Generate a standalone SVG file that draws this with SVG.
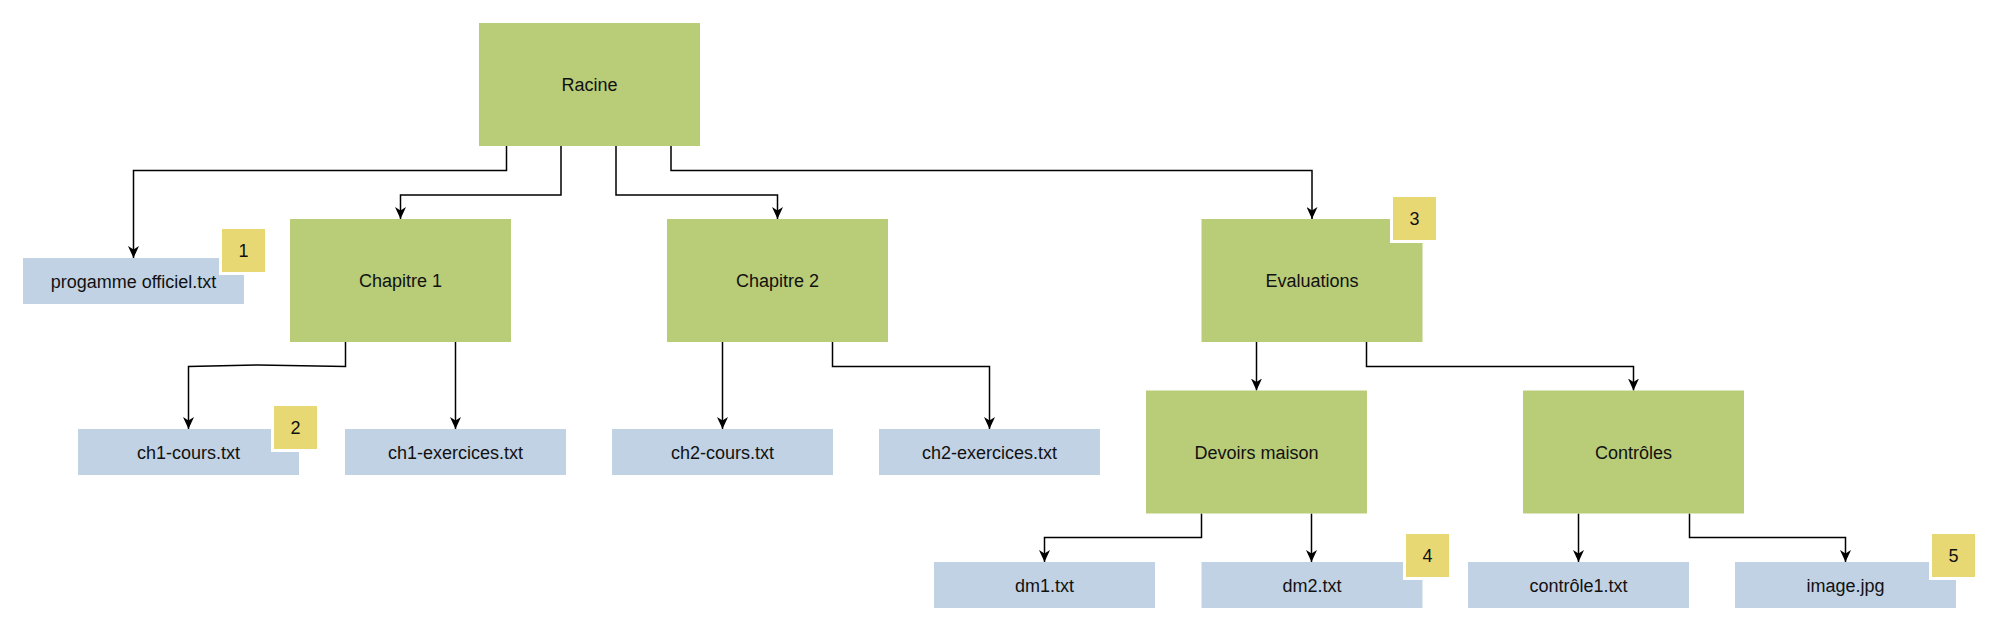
<svg xmlns="http://www.w3.org/2000/svg" width="2000" height="631" viewBox="0 0 2000 631">
<style>
.g{fill:#B9CC78}
.b{fill:#C1D2E4}
.y{fill:#E7D873;stroke:#FFFFFF;stroke-width:3}
.t{font-family:"Liberation Sans",Arial,sans-serif;font-size:18px;fill:#111111;text-anchor:middle}
.c{fill:none;stroke:#000000;stroke-width:1.5;marker-end:url(#arr)}
</style>
<defs>
<marker id="arr" viewBox="0 0 12 11" refX="12" refY="5.5" markerWidth="12" markerHeight="11" markerUnits="userSpaceOnUse" orient="auto">
<path d="M12,5.5 L0,0 L3.5,5.5 L0,11 Z" fill="#000000"/>
</marker>
</defs>
<rect width="2000" height="631" fill="#FFFFFF"/>
<g id="connectors">
<path class="c" d="M506.5,146 V170.5 H133.5 V258"/>
<path class="c" d="M561,146 V195 H400.5 V219"/>
<path class="c" d="M616,146 V195 H777.5 V219"/>
<path class="c" d="M671,146 V170.5 H1312 V219"/>
<path class="c" d="M345.5,342 V366.5 L258,365 L188.5,366.5 V429"/>
<path class="c" d="M455.5,342 V429"/>
<path class="c" d="M722.5,342 V429"/>
<path class="c" d="M832.5,342 V366.5 H989.5 V429"/>
<path class="c" d="M1256.5,342 V390.5"/>
<path class="c" d="M1366.5,342 V366.5 H1633.5 V390.5"/>
<path class="c" d="M1201.5,513.5 V537.5 H1044.5 V562"/>
<path class="c" d="M1311.5,513.5 V562"/>
<path class="c" d="M1578.5,513.5 V562"/>
<path class="c" d="M1689.5,513.5 V537.5 H1845.5 V562"/>
</g>
<g id="racine"><rect class="g" x="479" y="23" width="221" height="123"/><text class="t" x="589.5" y="91">Racine</text></g>
<g id="chapitre1"><rect class="g" x="290" y="219" width="221" height="123"/><text class="t" x="400.5" y="287">Chapitre 1</text></g>
<g id="chapitre2"><rect class="g" x="667" y="219" width="221" height="123"/><text class="t" x="777.5" y="287">Chapitre 2</text></g>
<g id="evaluations"><rect class="g" x="1201.5" y="219" width="221" height="123"/><text class="t" x="1312" y="287">Evaluations</text></g>
<g id="devoirs"><rect class="g" x="1146" y="390.5" width="221" height="123"/><text class="t" x="1256.5" y="458.5">Devoirs maison</text></g>
<g id="controles"><rect class="g" x="1523" y="390.5" width="221" height="123"/><text class="t" x="1633.5" y="458.5">Contrôles</text></g>
<g id="progamme"><rect class="b" x="23" y="258" width="221" height="46"/><text class="t" x="133.5" y="287.5">progamme officiel.txt</text></g>
<g id="ch1cours"><rect class="b" x="78" y="429" width="221" height="46"/><text class="t" x="188.5" y="458.5">ch1-cours.txt</text></g>
<g id="ch1ex"><rect class="b" x="345" y="429" width="221" height="46"/><text class="t" x="455.5" y="458.5">ch1-exercices.txt</text></g>
<g id="ch2cours"><rect class="b" x="612" y="429" width="221" height="46"/><text class="t" x="722.5" y="458.5">ch2-cours.txt</text></g>
<g id="ch2ex"><rect class="b" x="879" y="429" width="221" height="46"/><text class="t" x="989.5" y="458.5">ch2-exercices.txt</text></g>
<g id="dm1"><rect class="b" x="934" y="562" width="221" height="46"/><text class="t" x="1044.5" y="591.5">dm1.txt</text></g>
<g id="dm2"><rect class="b" x="1201.5" y="562" width="221" height="46"/><text class="t" x="1312" y="591.5">dm2.txt</text></g>
<g id="controle1"><rect class="b" x="1468" y="562" width="221" height="46"/><text class="t" x="1578.5" y="591.5">contrôle1.txt</text></g>
<g id="image"><rect class="b" x="1735" y="562" width="221" height="46"/><text class="t" x="1845.5" y="591.5">image.jpg</text></g>
<g id="badge1"><rect class="y" x="220.5" y="227.5" width="46" height="46"/><text class="t" x="243.5" y="257">1</text></g>
<g id="badge2"><rect class="y" x="272.5" y="404.5" width="46" height="46"/><text class="t" x="295.5" y="434">2</text></g>
<g id="badge3"><rect class="y" x="1391.5" y="195.5" width="46" height="46"/><text class="t" x="1414.5" y="225">3</text></g>
<g id="badge4"><rect class="y" x="1404.5" y="532.5" width="46" height="46"/><text class="t" x="1427.5" y="562">4</text></g>
<g id="badge5"><rect class="y" x="1930.5" y="532.5" width="46" height="46"/><text class="t" x="1953.5" y="562">5</text></g>
</svg>
